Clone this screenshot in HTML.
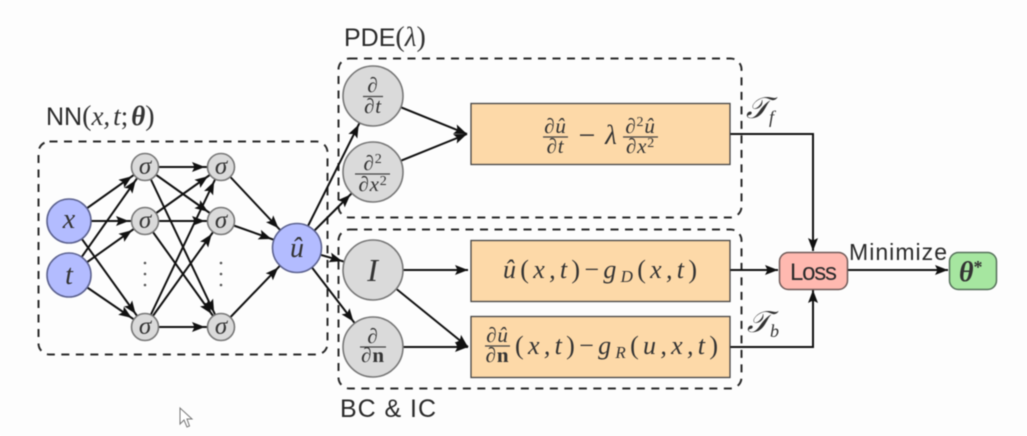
<!DOCTYPE html>
<html>
<head>
<meta charset="utf-8">
<style>
html,body{margin:0;padding:0;background:#fdfdfd;width:1027px;height:436px;overflow:hidden}
svg{display:block;filter:blur(0.45px)}
.s{font-family:"Liberation Sans",sans-serif;fill:#2a2a2a}
.m{font-family:"Liberation Serif",serif;font-style:italic;fill:#333}
.r{font-family:"Liberation Serif",serif;font-style:normal;fill:#333}
.e line,.e path{stroke:#111;stroke-width:2;fill:none}
.d{fill:none;stroke:#2a2a2a;stroke-width:2;stroke-dasharray:8 6.5}
.b{stroke:#444;stroke-width:1.3}
.t{text-anchor:middle}
.f{letter-spacing:0.8px}
</style>
</head>
<body>
<svg width="1027" height="436" viewBox="0 0 1027 436" xmlns="http://www.w3.org/2000/svg">
<defs>
<marker id="a0" markerUnits="userSpaceOnUse" markerWidth="50" markerHeight="14" viewBox="0 -7 50 14" refX="13" refY="0" orient="auto" overflow="visible"><path d="M0,-5 L13,0 L0,5 L2.5,0z" fill="#111"/></marker>
<marker id="a1" markerUnits="userSpaceOnUse" markerWidth="50" markerHeight="14" viewBox="0 -7 50 14" refX="29" refY="0" orient="auto" overflow="visible"><path d="M0,-5 L13,0 L0,5 L2.5,0z" fill="#111"/></marker>
<marker id="a2" markerUnits="userSpaceOnUse" markerWidth="60" markerHeight="14" viewBox="0 -7 60 14" refX="40" refY="0" orient="auto" overflow="visible"><path d="M0,-5 L13,0 L0,5 L2.5,0z" fill="#111"/></marker>
<marker id="a3" markerUnits="userSpaceOnUse" markerWidth="60" markerHeight="14" viewBox="0 -7 60 14" refX="45" refY="0" orient="auto" overflow="visible"><path d="M0,-5 L13,0 L0,5 L2.5,0z" fill="#111"/></marker>
</defs>
<rect width="1027" height="436" fill="#fdfdfd"/>

<!-- dashed groups -->
<rect class="d" x="38.500" y="141.500" width="289" height="213" rx="11"/>
<rect class="d" x="338.500" y="58.500" width="403" height="159" rx="11"/>
<rect class="d" x="338.500" y="229.500" width="403" height="159" rx="11"/>

<!-- connectors -->
<g class="e">
<line x1="69" y1="221" x2="145" y2="167" marker-end="url(#a1)"/>
<line x1="69" y1="221" x2="145" y2="221" marker-end="url(#a1)"/>
<line x1="69" y1="221" x2="145" y2="327" marker-end="url(#a1)"/>
<line x1="69" y1="275" x2="145" y2="167" marker-end="url(#a1)"/>
<line x1="69" y1="275" x2="145" y2="221" marker-end="url(#a1)"/>
<line x1="69" y1="275" x2="145" y2="327" marker-end="url(#a1)"/>
<line x1="145" y1="167" x2="221" y2="167" marker-end="url(#a1)"/>
<line x1="145" y1="167" x2="221" y2="221" marker-end="url(#a1)"/>
<line x1="145" y1="167" x2="221" y2="327" marker-end="url(#a1)"/>
<line x1="145" y1="221" x2="221" y2="167" marker-end="url(#a1)"/>
<line x1="145" y1="221" x2="221" y2="221" marker-end="url(#a1)"/>
<line x1="145" y1="221" x2="221" y2="327" marker-end="url(#a1)"/>
<line x1="145" y1="327" x2="221" y2="167" marker-end="url(#a1)"/>
<line x1="145" y1="327" x2="221" y2="221" marker-end="url(#a1)"/>
<line x1="145" y1="327" x2="221" y2="327" marker-end="url(#a1)"/>
<line x1="221" y1="167" x2="297" y2="248" marker-end="url(#a2)"/>
<line x1="221" y1="221" x2="297" y2="248" marker-end="url(#a2)"/>
<line x1="221" y1="327" x2="297" y2="248" marker-end="url(#a2)"/>
<line x1="297" y1="248" x2="373" y2="96" marker-end="url(#a3)"/>
<line x1="297" y1="248" x2="373" y2="172" marker-end="url(#a3)"/>
<line x1="297" y1="248" x2="373" y2="270" marker-end="url(#a3)"/>
<line x1="297" y1="248" x2="373" y2="347" marker-end="url(#a3)"/>
<line x1="373" y1="96" x2="467" y2="134" marker-end="url(#a0)"/>
<line x1="373" y1="172" x2="467" y2="134" marker-end="url(#a0)"/>
<line x1="373" y1="270" x2="468" y2="270" marker-end="url(#a0)"/>
<line x1="373" y1="270" x2="468" y2="347" marker-end="url(#a0)"/>
<line x1="373" y1="347" x2="468" y2="347" marker-end="url(#a0)"/>
<path d="M730,134 H813 V251" marker-end="url(#a0)"/>
<line x1="730" y1="270" x2="778" y2="270" marker-end="url(#a0)"/>
<path d="M730,347 H813 V290" marker-end="url(#a0)"/>
<line x1="847" y1="270" x2="948" y2="270" marker-end="url(#a0)"/>
</g>

<!-- sigma nodes -->
<g fill="#dadada" stroke="#777" stroke-width="1.6">
<circle cx="145" cy="167" r="13.500"/><circle cx="145" cy="221" r="13.500"/><circle cx="145" cy="327" r="13.500"/>
<circle cx="221" cy="167" r="13.500"/><circle cx="221" cy="221" r="13.500"/><circle cx="221" cy="327" r="13.500"/>
</g>
<g class="m t" font-size="25">
<text x="145" y="174">σ</text><text x="145" y="228">σ</text><text x="145" y="334">σ</text>
<text x="221" y="174">σ</text><text x="221" y="228">σ</text><text x="221" y="334">σ</text>
</g>
<g fill="#555">
<circle cx="145" cy="263" r="1.300"/><circle cx="145" cy="274" r="1.300"/><circle cx="145" cy="285" r="1.300"/>
<circle cx="221" cy="263" r="1.300"/><circle cx="221" cy="274" r="1.300"/><circle cx="221" cy="285" r="1.300"/>
</g>

<!-- blue nodes -->
<g fill="#b3bcff" stroke="#5c628f" stroke-width="1.6">
<circle cx="69" cy="221" r="22"/><circle cx="69" cy="275" r="22"/><circle cx="297" cy="248" r="24.500"/>
</g>
<g class="m t" fill="#222">
<text x="69" y="228" font-size="28">x</text>
<text x="69" y="284" font-size="28">t</text>
<text x="297" y="257" font-size="28">û</text>
</g>

<!-- grey operator circles -->
<g fill="#dadada" stroke="#777" stroke-width="1.6">
<circle cx="373" cy="96" r="30"/><circle cx="373" cy="172" r="30"/><circle cx="373" cy="270" r="30"/><circle cx="373" cy="347" r="30"/>
</g>

<!-- orange boxes -->
<g fill="#fdd9a8" class="b">
<rect x="471" y="103.500" width="259" height="61"/>
<rect x="471" y="240.500" width="259" height="61"/>
<rect x="471" y="316.500" width="259" height="61"/>
</g>

<!-- fraction bars -->
<g stroke="#444" stroke-width="1.2">
<line x1="363" y1="96.500" x2="383" y2="96.500"/>
<line x1="355" y1="174" x2="390" y2="174"/>
<line x1="360" y1="347" x2="386" y2="347"/>
<line x1="543" y1="137" x2="568" y2="137"/>
<line x1="623" y1="137" x2="658" y2="137"/>
<line x1="485" y1="346" x2="510" y2="346"/>
</g>

<g class="m t f" font-size="21">
<text x="373" y="92">∂</text>
<text x="373" y="113">∂t</text>
<text x="373" y="170">∂<tspan font-size="14" dy="-7" class="r">2</tspan></text>
<text x="373" y="191">∂x<tspan font-size="14" dy="-6" class="r">2</tspan></text>
<text x="373" y="343">∂</text>
<text x="373" y="362">∂<tspan class="r" font-weight="bold">n</tspan></text>
<text x="373" y="281" font-size="32">I</text>
</g>

<g class="m" font-size="21">
<text class="t f" x="555.500" y="133">∂û</text>
<text class="t f" x="555.500" y="153">∂t</text>
<text class="r t" x="587" y="145" font-size="30">−</text>
<text class="t" x="611" y="144" font-size="27">λ</text>
<text class="t f" x="640.500" y="133">∂<tspan font-size="14" dy="-7" class="r">2</tspan><tspan dy="7">û</tspan></text>
<text class="t f" x="640.500" y="153">∂x<tspan font-size="14" dy="-6" class="r">2</tspan></text>
<text x="503" y="278" font-size="26" textLength="194" lengthAdjust="spacing">û<tspan class="r">(</tspan>x,t<tspan class="r">)−</tspan>g<tspan font-size="17" dy="4">D</tspan><tspan class="r" dy="-4">(</tspan>x,t<tspan class="r">)</tspan></text>
<text class="t f" x="497.500" y="342">∂û</text>
<text class="t f" x="497.500" y="362">∂<tspan class="r" font-weight="bold">n</tspan></text>
<text x="515" y="354" font-size="26" textLength="203" lengthAdjust="spacing"><tspan class="r">(</tspan>x,t<tspan class="r">)−</tspan>g<tspan font-size="17" dy="4">R</tspan><tspan class="r" dy="-4">(</tspan>u,x,t<tspan class="r">)</tspan></text>
</g>

<!-- loss / theta -->
<rect x="779.500" y="252.500" width="68" height="37" rx="9" fill="#ffb9b0" stroke="#6e5a58" stroke-width="1.500"/>
<rect x="949.500" y="252.500" width="47" height="37" rx="9" fill="#a6e6a0" stroke="#55705a" stroke-width="1.500"/>
<text class="s" x="790" y="280" font-size="24" textLength="47">Loss</text>
<text class="m" x="959" y="281" font-size="28" font-weight="bold" fill="#111">θ<tspan font-size="18" dy="-8" font-style="normal">*</tspan></text>

<!-- labels -->
<text class="s" x="46" y="125" font-size="25">NN<tspan class="r" font-size="28">(</tspan><tspan class="m" font-size="27">x,</tspan><tspan class="m" font-size="27" dx="3">t</tspan><tspan class="r" font-size="27">;</tspan><tspan class="m" font-size="27" font-weight="bold" dx="3">θ</tspan><tspan class="r" font-size="28">)</tspan></text>
<text class="s" x="344" y="46" font-size="25">PDE<tspan class="r" font-size="28">(</tspan><tspan class="m" font-size="27">λ</tspan><tspan class="r" font-size="28">)</tspan></text>
<text class="s" x="340" y="417" font-size="25" textLength="96">BC &amp; IC</text>
<text class="s" x="849" y="260" font-size="23" textLength="98">Minimize</text>
<text class="m" x="746" y="118" font-size="30">𝒯<tspan font-size="18" dy="5">f</tspan></text>
<text class="m" x="747" y="332" font-size="30">𝒯<tspan font-size="18" dy="5">b</tspan></text>

<!-- cursor -->
<path d="M180,408 L180,424 L184,420 L187,427 L189.500,426 L187,419 L192,419 Z" fill="#fff" stroke="#777" stroke-width="1"/>
</svg>
</body>
</html>
